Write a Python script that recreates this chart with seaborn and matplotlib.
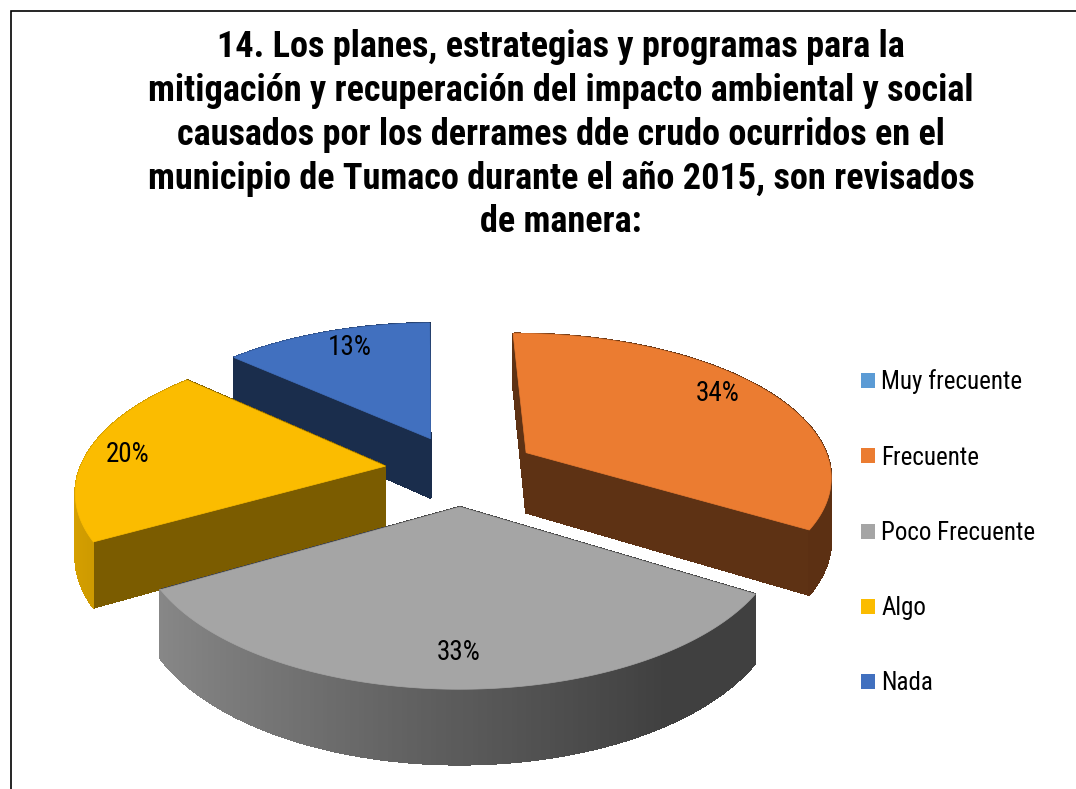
import numpy as np
import seaborn as sns
import matplotlib.pyplot as plt
from matplotlib.collections import PolyCollection
from matplotlib.colors import to_rgb
from matplotlib.patches import Patch, Polygon

categories = ['Muy frecuente', 'Frecuente', 'Poco Frecuente', 'Algo', 'Nada']
values = [0, 34, 33, 20, 13]
colors = ['#5B9BD5', '#EB7C31', '#A5A5A5', '#FBBC00', '#4170BF']
title = ('14. Los planes, estrategias y programas para la\n'
         'mitigación y recuperación del impacto ambiental y social\n'
         'causados por los derrames dde crudo ocurridos en el\n'
         'municipio de Tumaco durante el año 2015, son revisados\n'
         'de manera:')

sns.set_theme(style='white')
plt.rcParams['font.family'] = ['Roboto Condensed', 'Liberation Sans', 'DejaVu Sans']
palette = sns.color_palette(colors)

# camera for the tilted pie, all in pixels of the 1076x789 picture
cx, cy = 461, 470
sx, sy = 312, 145
tilt = 0.155
depth = 61
flat_dark = [0.4, 0.4, 0.4, 0.49, 0.4]
label_nudge = [(0, 0), (-13, -5), (3, -5), (-5, 1), (9, 1)]


def project(x, y, drop=0):
    w = 1 + tilt * np.asarray(y)
    return cx + sx * np.asarray(x) / w, cy - sy * np.asarray(y) / w + drop / w


fig = plt.figure(figsize=(10.76, 7.89), dpi=100)

# flat pie gives the wedge geometry, it is not shown itself
ax_pie = fig.add_axes([0, 0, 1, 1])
wedges, _, autotexts = ax_pie.pie(values, colors=palette, explode=[0.245] * len(values),
                                  radius=0.98, startangle=91, counterclock=False,
                                  autopct='%.0f%%', pctdistance=0.85)
ax_pie.set_visible(False)

ax = fig.add_axes([0, 0, 1, 1])
ax.set_xlim(0, 1076)
ax.set_ylim(789, 0)
ax.axis('off')

# order of painting: far slices first, the grey one last
for i in [4, 3, 1, 2]:
    wedge = wedges[i]
    base = np.array(to_rgb(palette[i]))
    t = np.radians(np.linspace(wedge.theta1, wedge.theta2, 160))
    x0, y0 = wedge.center
    xs = np.r_[x0, x0 + wedge.r * np.cos(t), x0]
    ys = np.r_[y0, y0 + wedge.r * np.sin(t), y0]
    px, py = project(xs, ys)
    qx, qy = project(xs, ys, depth)

    quads, shades = [], []
    for j in range(len(xs) - 1):
        quads.append([(px[j], py[j]), (px[j + 1], py[j + 1]), (qx[j + 1], qy[j + 1]), (qx[j], qy[j])])
        if j == 0 or j == len(xs) - 2:
            shades.append(base * flat_dark[i])
        else:
            nx = np.cos((t[j - 1] + t[j]) / 2)
            shades.append(base * np.interp(nx, [-1, 0, 0.55], [0.86, 0.55, 0.39]))
    order = np.argsort([np.mean([p[1] for p in q]) for q in quads])
    ax.add_collection(PolyCollection([quads[k] for k in order], facecolors=[shades[k] for k in order],
                                     edgecolors=[shades[k] for k in order], linewidths=0.8,
                                     antialiaseds=False))
    ax.add_patch(Polygon(np.c_[px, py], closed=True, facecolor=base, edgecolor=base, linewidth=0.5))

for i, label in enumerate(autotexts):
    if values[i] > 0:
        lx, ly = label.get_position()
        tx, ty = project(lx, ly)
        ax.text(tx + label_nudge[i][0], ty + label_nudge[i][1], label.get_text(), fontsize=19.5,
                color='black', ha='center', va='center')

ax.text(561, 29, title, fontsize=26.1, fontweight='bold', color='black', ha='center', va='top',
        linespacing=1.28, multialignment='center')

handles = [Patch(facecolor=c, edgecolor='none') for c in palette]
ax.legend(handles, categories, loc='center left', bbox_to_anchor=(861 / 1076, 1 - 532.5 / 789), frameon=False,
          fontsize=18, handlelength=0.56, handleheight=0.56, handletextpad=0.25, labelspacing=2.05,
          borderpad=0, borderaxespad=0, labelcolor='black')

# chart frame runs off the picture at right and bottom
ax.plot([10.5, 10.5, 1076], [789, 10.5, 10.5], color='black', lw=1.2, solid_joinstyle='miter')

fig.savefig('out.png', dpi=100)
